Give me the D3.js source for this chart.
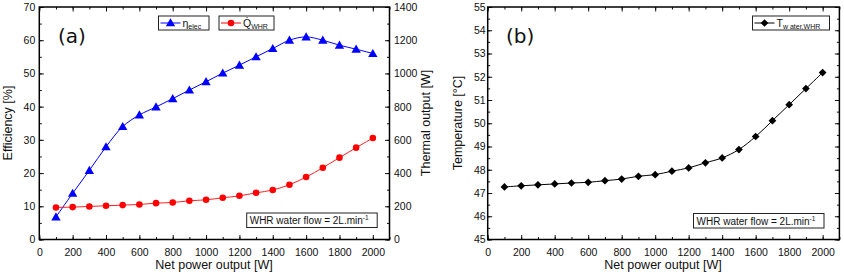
<!DOCTYPE html>
<html><head><meta charset="utf-8">
<script src="https://cdn.jsdelivr.net/npm/d3@7"></script>
<style>
html,body{margin:0;padding:0;background:#fff;}
svg{display:block;}
</style></head>
<body>
<svg id="c" width="844" height="274" font-family="Liberation Sans, Arial, sans-serif"></svg>
<script>
const power = [100,200,300,400,500,600,700,800,900,1000,1100,1200,1300,1400,1500,1600,1700,1800,1900,2000];
const etaElec = [6.8,13.9,20.8,27.9,34,37.5,39.9,42.4,45,47.5,50.1,52.5,55,57.5,60,61,60,58.5,57.3,56];
const qWHR = [193,195,199,203,207,211,219,223,233,239,251,263,281,298,330,376,432,493,553,611];
const tWater = [47.26,47.31,47.35,47.39,47.43,47.46,47.53,47.6,47.72,47.79,47.94,48.08,48.3,48.51,48.87,49.43,50.11,50.8,51.49,52.18];
const xTicks = [0,200,400,600,800,1000,1200,1400,1600,1800,2000];
const effTicks = [0,10,20,30,40,50,60,70];
const thermTicks = [0,200,400,600,800,1000,1200,1400];
const tempTicks = [45,46,47,48,49,50,51,52,53,54,55];

const svg = d3.select("#c");
const plotTop = 7, plotBottom = 239.5;
const fmt = d3.format("d");

function frameAxes(g, x, yL, yR, opts){
  const x0 = x.range()[0], x1 = x.range()[1];
  const minorX = d3.range(0, 2101, 100);
  const styleText = a=>a.selectAll("text").attr("font-size",10.5).attr("font-family","Liberation Sans, Arial, sans-serif").attr("fill","#111");
  g.append("g").attr("transform",`translate(0,${plotBottom})`)
    .call(d3.axisBottom(x).tickValues(minorX).tickSizeInner(-2.5).tickSizeOuter(0).tickFormat(""))
    .call(a=>a.select(".domain").remove());
  g.append("g").attr("transform",`translate(0,${plotBottom})`)
    .call(d3.axisBottom(x).tickValues(xTicks).tickFormat(fmt).tickSizeInner(-4.5).tickSizeOuter(0).tickPadding(9))
    .call(a=>a.select(".domain").remove()).call(styleText);
  g.append("g").attr("transform",`translate(0,${plotTop})`)
    .call(d3.axisTop(x).tickValues(minorX).tickSizeInner(-2.5).tickSizeOuter(0).tickFormat(""))
    .call(a=>a.select(".domain").remove());
  g.append("g").attr("transform",`translate(0,${plotTop})`)
    .call(d3.axisTop(x).tickValues(xTicks).tickSizeInner(-4.5).tickSizeOuter(0).tickFormat(""))
    .call(a=>a.select(".domain").remove());
  g.append("g").attr("transform",`translate(${x0},0)`)
    .call(d3.axisLeft(yL).tickValues(opts.leftMinor).tickSizeInner(-2.5).tickSizeOuter(0).tickFormat(""))
    .call(a=>a.select(".domain").remove());
  g.append("g").attr("transform",`translate(${x0},0)`)
    .call(d3.axisLeft(yL).tickValues(opts.leftTicks).tickFormat(fmt).tickSizeInner(-4.5).tickSizeOuter(0).tickPadding(opts.leftPad))
    .call(a=>a.select(".domain").remove()).call(styleText);
  g.append("g").attr("transform",`translate(${x1},0)`)
    .call(d3.axisRight(yR).tickValues(opts.rightMinor).tickSizeInner(-2.5).tickSizeOuter(0).tickFormat(""))
    .call(a=>a.select(".domain").remove());
  const ra = g.append("g").attr("transform",`translate(${x1},0)`)
    .call(d3.axisRight(yR).tickValues(opts.rightTicks).tickFormat(fmt).tickSizeInner(-4.5).tickSizeOuter(0).tickPadding(4.5))
    .call(a=>a.select(".domain").remove()).call(styleText);
  if(!opts.rightLabels) ra.selectAll("text").remove();
  g.selectAll(".tick line").attr("stroke","#111").attr("stroke-width",1);
  g.append("rect").attr("x",x0).attr("y",plotTop).attr("width",x1-x0).attr("height",plotBottom-plotTop)
    .attr("fill","none").attr("stroke","#000").attr("stroke-width",1.5);
}

// ---------- Chart A ----------
const gA = svg.append("g");
const xA = d3.scaleLinear().domain([0,2100]).range([39.3,389.5]);
const yA = d3.scaleLinear().domain([0,70]).range([plotBottom,plotTop]);
const yA2 = d3.scaleLinear().domain([0,1400]).range([plotBottom,plotTop]);
frameAxes(gA, xA, yA, yA2, {
  leftTicks: effTicks, leftMinor: d3.range(0,71,5), leftPad: 4,
  rightTicks: thermTicks, rightMinor: d3.range(0,1401,100), rightLabels: true
});

const lineEta = d3.line().x((d,i)=>xA(power[i])).y(d=>yA(d)).curve(d3.curveCatmullRom);
gA.append("path").attr("d",lineEta(etaElec)).attr("fill","none").attr("stroke","#0000ff").attr("stroke-width",1);
const lineQ = d3.line().x((d,i)=>xA(power[i])).y(d=>yA2(d)).curve(d3.curveCatmullRom);
gA.append("path").attr("d",lineQ(qWHR)).attr("fill","none").attr("stroke","#ff2020").attr("stroke-width",1);

const tri = d3.symbol().type(d3.symbolTriangle).size(38);
const circ = d3.symbol().type(d3.symbolCircle).size(34);
const diam = d3.symbol().type(d3.symbolSquare).size(30);
gA.selectAll(".tri").data(etaElec).join("path")
  .attr("d",tri).attr("transform",(d,i)=>`translate(${xA(power[i])},${yA(d)+0.8})`).attr("fill","#0000ff");
gA.selectAll(".circ").data(qWHR).join("path")
  .attr("d",circ).attr("transform",(d,i)=>`translate(${xA(power[i])},${yA2(d)})`).attr("fill","#ff0000");

function legendBox(g, x, y, w, h, color, sym, label, sub){
  g.append("rect").attr("x",x).attr("y",y).attr("width",w).attr("height",h)
    .attr("fill","#fff").attr("stroke","#222").attr("stroke-width",1);
  g.append("line").attr("x1",x+2).attr("x2",x+22).attr("y1",y+h/2).attr("y2",y+h/2).attr("stroke",color).attr("stroke-width",1);
  g.append("path").attr("d",sym).attr("transform",`translate(${x+12},${y+h/2 + (sym===tri?0.6:0)}) ${sym===diam?"rotate(45)":""}`).attr("fill",color);
  const t = g.append("text").attr("x",x+24).attr("y",y+h/2+4).attr("font-size",10.5).attr("fill","#111");
  t.append("tspan").text(label);
  t.append("tspan").attr("font-size",7).attr("dy",1.5).text(sub);
  return t;
}
legendBox(gA, 158.5, 16, 50.5, 14, "#0000ff", tri, "η", "elec");
legendBox(gA, 219, 16, 55, 14, "#ff0000", circ, "Q\u0307", "WHR");

gA.append("text").attr("x",58).attr("y",43).attr("font-size",20).attr("fill","#111").attr("font-family","DejaVu Sans, sans-serif").text("(a)");

function noteBox(g, x, y){
  g.append("rect").attr("x",x).attr("y",y).attr("width",130.5).attr("height",14.5)
    .attr("fill","#fff").attr("stroke","#222").attr("stroke-width",1);
  const t = g.append("text").attr("x",x+3).attr("y",y+11).attr("font-size",10).attr("fill","#111");
  t.append("tspan").text("WHR water flow = 2L.min");
  t.append("tspan").attr("font-size",6.5).attr("dy",-4).text("-1");
}
noteBox(gA, 246.7, 213);

gA.append("text").attr("transform","translate(11.5,123) rotate(-90)").attr("text-anchor","middle").attr("font-size",12.5).attr("fill","#111").text("Efficiency [%]");
gA.append("text").attr("transform","translate(429.5,123) rotate(-90)").attr("text-anchor","middle").attr("font-size",12.5).attr("fill","#111").text("Thermal output [W]");
gA.append("text").attr("x",214).attr("y",269).attr("text-anchor","middle").attr("font-size",12.5).attr("fill","#111").text("Net power output [W]");

// ---------- Chart B ----------
const gB = svg.append("g");
const xB = d3.scaleLinear().domain([0,2100]).range([487.7,839.4]);
const yB = d3.scaleLinear().domain([45,55]).range([plotBottom,plotTop]);
frameAxes(gB, xB, yB, yB, {
  leftTicks: tempTicks, leftMinor: d3.range(45,55.01,0.5), leftPad: 2,
  rightTicks: tempTicks, rightMinor: d3.range(45,55.01,0.5), rightLabels: false
});
const lineT = d3.line().x((d,i)=>xB(power[i])).y(d=>yB(d)).curve(d3.curveCatmullRom);
gB.append("path").attr("d",lineT(tWater)).attr("fill","none").attr("stroke","#000").attr("stroke-width",1);
gB.selectAll(".dm").data(tWater).join("path")
  .attr("d",diam).attr("transform",(d,i)=>`translate(${xB(power[i])},${yB(d)}) rotate(45)`).attr("fill","#000");

legendBox(gB, 752.5, 16, 77, 14, "#000", diam, "T", "w ater,WHR");
gB.append("text").attr("x",506).attr("y",43).attr("font-size",20).attr("fill","#111").attr("font-family","DejaVu Sans, sans-serif").text("(b)");
noteBox(gB, 693.5, 213.5);
gB.append("text").attr("transform","translate(461.5,123) rotate(-90)").attr("text-anchor","middle").attr("font-size",12.5).attr("fill","#111").text("Temperature [°C]");
gB.append("text").attr("x",663).attr("y",269).attr("text-anchor","middle").attr("font-size",12.5).attr("fill","#111").text("Net power output [W]");
</script>
</body></html>
